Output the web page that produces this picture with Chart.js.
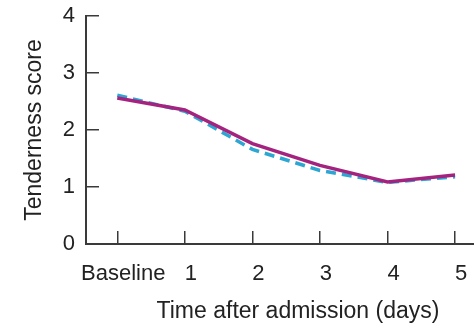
<!DOCTYPE html>
<html>
<head>
<meta charset="utf-8">
<script src="https://cdn.jsdelivr.net/npm/chart.js@4/dist/chart.umd.min.js"></script>
<style>
  html, body { margin: 0; padding: 0; background: #fff; }
  #wrap { width: 474px; height: 327px; }
</style>
</head>
<body>
<div id="wrap"><canvas id="myChart"></canvas></div>
<script>
// values
const days = [0, 1, 2, 3, 4, 5];
const dayLabels = ['Baseline', '1', '2', '3', '4', '5'];
const solidScores = [2.56, 2.35, 1.76, 1.38, 1.09, 1.21];
const dashedScores = [2.61, 2.33, 1.66, 1.29, 1.08, 1.18];
const yTicks = [0, 1, 2, 3, 4];

const axisColor = '#3a3a3a';
const fontFamily = '"Liberation Sans", Arial, sans-serif';

// draws the x title a bit right of centre, like the original
const xTitle = {
  id: 'xTitle',
  afterDraw(chart) {
    const ctx = chart.ctx;
    ctx.save();
    ctx.font = '23px ' + fontFamily;
    ctx.fillStyle = '#222';
    ctx.textAlign = 'center';
    ctx.textBaseline = 'middle';
    ctx.fillText('Time after admission (days)', 298, 312);
    ctx.restore();
  }
};

try {
  const ctx = document.getElementById('myChart');

  new Chart(ctx, {
    type: 'line',
    data: {
      datasets: [{
        label: 'solid',
        data: days.map((d, i) => ({ x: d, y: solidScores[i] })),
        borderColor: '#a3237f',
        borderWidth: 3.5,
        pointRadius: 0,
        tension: 0
      }, {
        label: 'dashed',
        data: days.map((d, i) => ({ x: d, y: dashedScores[i] })),
        borderColor: '#2ea6d2',
        borderWidth: 3.5,
        borderDash: [10, 6],
        pointRadius: 0,
        tension: 0
      }]
    },
    options: {
      responsive: true,
      maintainAspectRatio: false,
      animation: false,
      layout: { padding: { top: 16, right: 0, left: 0, bottom: 0 } },
      plugins: { legend: { display: false }, tooltip: { enabled: false } },
      scales: {
        x: {
          type: 'linear',
          min: -0.463,
          max: 5.28,
          afterFit: s => { s.height = 83; s.paddingLeft = 0; s.paddingRight = 0; },
          grid: { drawOnChartArea: false, drawTicks: true, tickLength: -13, tickColor: axisColor, lineWidth: 1.5 },
          border: { color: axisColor, width: 2 },
          ticks: {
            stepSize: 1,
            includeBounds: false,
            autoSkip: false,
            maxRotation: 0,
            padding: 30,
            labelOffset: 6,
            color: '#222',
            font: { family: fontFamily, size: 22 },
            callback: v => dayLabels[v]
          }
        },
        y: {
          min: yTicks[0],
          max: yTicks[yTicks.length - 1],
          afterFit: s => { s.width = 86; s.paddingTop = 0; s.paddingBottom = 0; },
          grid: { drawOnChartArea: false, drawTicks: true, tickLength: -13, tickColor: axisColor, lineWidth: 1.5 },
          border: { color: axisColor, width: 2 },
          ticks: {
            stepSize: 1,
            padding: 24,
            color: '#222',
            font: { family: fontFamily, size: 22 }
          },
          title: {
            display: true,
            text: 'Tenderness score',
            color: '#222',
            padding: { top: 21, bottom: 0 },
            font: { family: fontFamily, size: 23 }
          }
        }
      }
    },
    plugins: [xTitle]
  });
} catch (error) {
  console.log(error);
}
</script>
</body>
</html>
